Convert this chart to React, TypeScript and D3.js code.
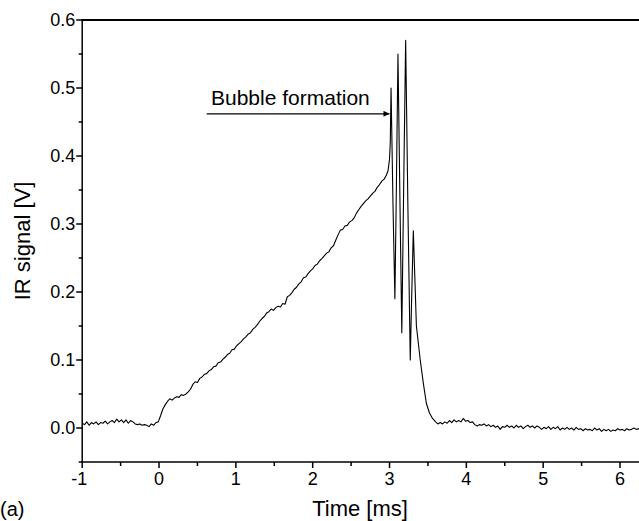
import React from "react";
import * as d3 from "d3";

// [time ms, IR signal V]
const baselineBefore: [number, number][] = [
  [-1.0, 0.007], [-0.97, 0.005], [-0.94, 0.009], [-0.91, 0.004], [-0.88, 0.008], [-0.85, 0.006],
  [-0.82, 0.009], [-0.79, 0.005], [-0.76, 0.008], [-0.73, 0.007], [-0.70, 0.010], [-0.67, 0.006],
  [-0.64, 0.009], [-0.61, 0.011], [-0.58, 0.008], [-0.55, 0.013], [-0.52, 0.009], [-0.49, 0.012],
  [-0.46, 0.008], [-0.43, 0.012], [-0.40, 0.007], [-0.37, 0.011], [-0.34, 0.009], [-0.31, 0.006],
  [-0.28, 0.005], [-0.25, 0.006], [-0.22, 0.004], [-0.19, 0.005], [-0.16, 0.004], [-0.13, 0.002],
  [-0.10, 0.006], [-0.07, 0.004], [-0.04, 0.008], [-0.01, 0.009],
];

const ramp: [number, number][] = [
  [0.02, 0.018], [0.05, 0.028], [0.08, 0.034], [0.11, 0.039], [0.14, 0.043], [0.17, 0.041],
  [0.20, 0.044], [0.23, 0.046], [0.26, 0.045], [0.29, 0.049], [0.32, 0.048], [0.35, 0.050],
  [0.38, 0.053], [0.41, 0.057], [0.44, 0.064], [0.47, 0.068], [0.50, 0.067], [0.53, 0.073],
  [0.56, 0.075], [0.59, 0.079], [0.62, 0.080], [0.65, 0.084], [0.68, 0.086], [0.71, 0.090],
  [0.74, 0.091], [0.77, 0.096], [0.80, 0.097], [0.83, 0.101], [0.86, 0.104], [0.89, 0.108],
  [0.92, 0.110], [0.95, 0.115], [0.98, 0.116], [1.01, 0.121], [1.04, 0.124], [1.07, 0.127],
  [1.10, 0.131], [1.13, 0.134], [1.16, 0.138], [1.19, 0.140], [1.22, 0.145], [1.25, 0.148],
  [1.28, 0.152], [1.31, 0.157], [1.34, 0.161], [1.37, 0.164], [1.40, 0.169], [1.43, 0.171],
  [1.46, 0.175], [1.49, 0.173], [1.52, 0.177], [1.55, 0.179], [1.58, 0.178], [1.61, 0.183],
  [1.64, 0.182], [1.67, 0.193], [1.70, 0.195], [1.73, 0.199], [1.76, 0.204], [1.79, 0.207],
  [1.82, 0.212], [1.85, 0.215], [1.88, 0.221], [1.91, 0.222], [1.94, 0.227], [1.97, 0.231],
  [2.00, 0.234], [2.03, 0.239], [2.06, 0.241], [2.09, 0.246], [2.12, 0.249], [2.15, 0.253],
  [2.18, 0.257], [2.21, 0.259], [2.24, 0.265], [2.27, 0.268], [2.30, 0.276], [2.33, 0.284],
  [2.36, 0.291], [2.39, 0.292], [2.42, 0.297], [2.45, 0.298], [2.48, 0.303], [2.51, 0.305],
  [2.54, 0.309], [2.57, 0.316], [2.60, 0.321], [2.63, 0.326], [2.66, 0.330], [2.69, 0.334],
  [2.72, 0.337], [2.75, 0.341], [2.78, 0.345], [2.81, 0.348], [2.84, 0.354], [2.87, 0.358],
  [2.90, 0.363], [2.93, 0.366], [2.96, 0.372], [2.98, 0.378], [3.00, 0.395],
];

const oscillation: [number, number][] = [
  [3.01, 0.42], [3.02, 0.50], [3.045, 0.33], [3.07, 0.19], [3.09, 0.36], [3.11, 0.55],
  [3.135, 0.34], [3.16, 0.14], [3.185, 0.36], [3.21, 0.57], [3.24, 0.32], [3.27, 0.10],
  [3.29, 0.20], [3.31, 0.29], [3.35, 0.15], [3.40, 0.10], [3.44, 0.066], [3.48, 0.036],
  [3.52, 0.022], [3.56, 0.014], [3.60, 0.009],
];

const baselineAfter: [number, number][] = [
  [3.63, 0.006], [3.66, 0.008], [3.69, 0.006], [3.72, 0.009], [3.75, 0.007], [3.78, 0.011],
  [3.81, 0.008], [3.84, 0.012], [3.87, 0.009], [3.90, 0.011], [3.93, 0.009], [3.96, 0.014],
  [3.99, 0.010], [4.02, 0.011], [4.05, 0.008], [4.08, 0.009], [4.11, 0.005], [4.14, 0.003],
  [4.17, 0.005], [4.20, 0.004], [4.23, 0.006], [4.26, 0.003], [4.29, 0.005], [4.32, 0.002],
  [4.35, 0.004], [4.38, 0.001], [4.41, 0.003], [4.44, -0.002], [4.47, 0.002], [4.50, 0.001],
  [4.53, 0.004], [4.56, 0.001], [4.59, 0.003], [4.62, 0.000], [4.65, 0.004], [4.68, 0.001],
  [4.71, 0.003], [4.74, -0.001], [4.77, 0.002], [4.80, 0.004], [4.83, 0.001], [4.86, 0.003],
  [4.89, 0.000], [4.92, 0.003], [4.95, 0.001], [4.98, -0.002], [5.01, 0.001], [5.04, -0.001],
  [5.07, 0.002], [5.10, -0.002], [5.13, 0.001], [5.16, -0.001], [5.19, 0.002], [5.22, -0.003],
  [5.25, 0.000], [5.28, -0.002], [5.31, 0.001], [5.34, -0.002], [5.37, 0.000], [5.40, -0.003],
  [5.43, 0.001], [5.46, -0.002], [5.49, -0.001], [5.52, -0.004], [5.55, -0.001], [5.58, -0.003],
  [5.61, -0.002], [5.64, -0.004], [5.67, 0.000], [5.70, -0.003], [5.73, -0.001], [5.76, -0.005],
  [5.79, -0.002], [5.82, -0.004], [5.85, -0.002], [5.88, -0.005], [5.91, -0.003], [5.94, -0.004],
  [5.97, -0.001], [6.00, -0.003], [6.03, -0.002], [6.06, -0.004], [6.09, -0.001], [6.12, -0.003],
  [6.15, -0.002], [6.18, 0.000], [6.21, -0.002], [6.24, -0.001], [6.27, -0.002], [6.30, 0.000],
];

const xTicks = [-1, 0, 1, 2, 3, 4, 5, 6];
const xMinor = [-0.5, 0.5, 1.5, 2.5, 3.5, 4.5, 5.5];
const yTicks = [0.0, 0.1, 0.2, 0.3, 0.4, 0.5, 0.6];
const yMinor = [-0.05, 0.05, 0.15, 0.25, 0.35, 0.45, 0.55];

const annotationText = "Bubble formation";
const arrowFrom: [number, number] = [0.62, 0.462];
const arrowTo: [number, number] = [3.0, 0.462];

export default function App() {
  const W = 639, H = 521;
  const x = d3.scaleLinear().domain([-1, 6]).range([82.2, 620]);
  const y = d3.scaleLinear().domain([-0.05, 0.6]).range([462, 20]);
  const data = [...baselineBefore, ...ramp, ...oscillation, ...baselineAfter];
  const line = d3.line<[number, number]>().x(d => x(d[0])).y(d => y(d[1]));
  const font = "'Liberation Sans', Arial, Helvetica, sans-serif";
  const x0 = x(-1), yB = y(-0.05), yT = y(0.6);

  return (
    <svg width={W} height={H} style={{ position: "absolute", left: 0, top: 0 }} fontFamily={font}>
      <defs>
        <marker id="ah" viewBox="0 0 10 10" refX="10" refY="5" markerWidth="8" markerHeight="6" orient="auto" markerUnits="userSpaceOnUse">
          <path d="M0,0 L10,5 L0,10 z" fill="#000" />
        </marker>
      </defs>
      <path d={line(data) || ""} fill="none" stroke="#000" strokeWidth={1.1} strokeLinejoin="round" />
      {/* axes */}
      <line x1={x0} x2={W + 5} y1={yT} y2={yT} stroke="#000" strokeWidth={2.2} />
      <line x1={x0} x2={x0} y1={yT - 1} y2={yB} stroke="#000" strokeWidth={1.5} />
      <line x1={x0 - 0.75} x2={W + 5} y1={yB} y2={yB} stroke="#000" strokeWidth={1.5} />
      {yTicks.map(t => (
        <g key={"y" + t}>
          <line x1={x0 - 6} x2={x0} y1={y(t)} y2={y(t)} stroke="#000" strokeWidth={1.5} />
          <text x={x0 - 7} y={y(t)} dy="0.36em" textAnchor="end" fontSize={18}>{t.toFixed(1)}</text>
        </g>
      ))}
      {yMinor.map(t => (
        <line key={"ym" + t} x1={x0 - 3.5} x2={x0} y1={y(t)} y2={y(t)} stroke="#000" strokeWidth={1.5} />
      ))}
      {xTicks.map(t => (
        <g key={"x" + t}>
          <line x1={x(t)} x2={x(t)} y1={yB} y2={yB + 6} stroke="#000" strokeWidth={1.5} />
          <text x={x(t) - (t < 0 ? 3 : 0)} y={yB + 23} textAnchor="middle" fontSize={18}>{t}</text>
        </g>
      ))}
      {xMinor.map(t => (
        <line key={"xm" + t} x1={x(t)} x2={x(t)} y1={yB} y2={yB + 4} stroke="#000" strokeWidth={1.5} />
      ))}
      <text x={360} y={516} textAnchor="middle" fontSize={22}>Time [ms]</text>
      <text transform={`translate(30,${241}) rotate(-90)`} textAnchor="middle" fontSize={22}>IR signal [V]</text>
      <text x={0} y={516} fontSize={20}>(a)</text>
      {/* annotation */}
      <text x={211} y={105} fontSize={21}>{annotationText}</text>
      <line x1={x(arrowFrom[0])} x2={x(arrowTo[0])} y1={y(arrowFrom[1])} y2={y(arrowTo[1])} stroke="#000" strokeWidth={1.3} markerEnd="url(#ah)" />
    </svg>
  );
}
